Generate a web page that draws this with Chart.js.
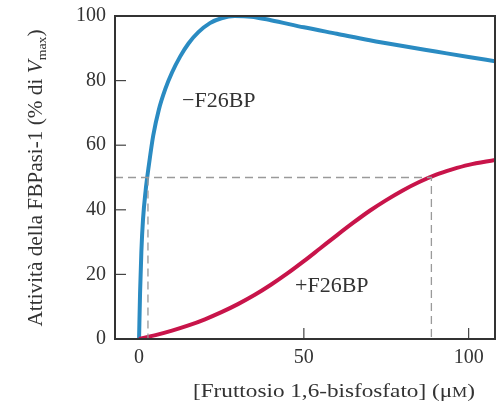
<!DOCTYPE html>
<html>
<head>
<meta charset="utf-8">
<script src="https://cdn.jsdelivr.net/npm/chart.js@4/dist/chart.umd.min.js"></script>
<style>
  html, body { margin: 0; padding: 0; background: #fff; }
  #wrap { width: 498px; height: 409px; }
</style>
</head>
<body>
<div id="wrap"><canvas id="grafico"></canvas></div>
<script>
// valori
const xTicks = [0, 50, 100];
const yTicks = [0, 20, 40, 60, 80, 100];

// -F26BP
const senzaX = [0, 0.3, 0.7, 1.2, 2, 3, 4.3, 6, 8, 10, 12.5, 15, 18, 21.5, 25, 29, 34, 40, 50, 60, 70, 80, 90, 100, 108];
const senzaY = [0, 14, 27, 37, 46, 54, 63, 71, 77.5, 82.5, 87.5, 91.5, 95, 97.8, 99.3, 100, 99.8, 98.7, 96.5, 94.5, 92.5, 90.7, 89, 87.3, 86];

// +F26BP
const conX = [0, 5, 10, 15, 20, 25, 30, 35, 40, 45, 50, 55, 60, 65, 70, 75, 80, 85, 90, 95, 100, 108];
const conY = [0, 1.2, 2.6, 4.2, 6.1, 8.3, 10.8, 13.6, 16.8, 20.3, 24.1, 28.1, 32.1, 36, 39.7, 43, 46, 48.6, 50.8, 52.5, 53.9, 55.4];

// linee tratteggiate a metà attività
const metaY = 50;
const metaSenzaX = 2.7;
const metaConX = 88.7;

const X_MIN = -7.3, X_MAX = 108;
const FONT = '"Liberation Serif", "DejaVu Serif", serif';

const toPoints = (xs, ys) => xs.map((x, i) => ({ x: x, y: ys[i] }));

// disegna pezzi di testo (corsivo, pedici) centrati e adattati a una larghezza
function drawParts(ctx, parts, cx, baseline, width) {
    let total = 0;
    parts.forEach(p => { ctx.font = p.f; total += ctx.measureText(p.t).width; });
    const k = width ? width / total : 1;
    ctx.save();
    ctx.translate(cx - (total * k) / 2, baseline);
    ctx.scale(k, 1);
    ctx.textAlign = 'left';
    ctx.textBaseline = 'alphabetic';
    ctx.fillStyle = '#333';
    let x = 0;
    parts.forEach(p => {
        ctx.font = p.f;
        ctx.fillText(p.t, x, p.dy);
        x += ctx.measureText(p.t).width;
    });
    ctx.restore();
}

// cornice, tacche interne, etichette e titoli degli assi
const decorPlugin = {
    id: 'decor',
    afterDraw(chart) {
        const ctx = chart.ctx;
        const a = chart.chartArea;
        const xs = chart.scales.x, ys = chart.scales.y;
        ctx.save();

        // tacche verso l'interno
        ctx.strokeStyle = '#444';
        ctx.lineWidth = 1.2;
        yTicks.forEach(v => {
            if (v === 0 || v === 100) return;
            const py = ys.getPixelForValue(v);
            ctx.beginPath();
            ctx.moveTo(a.left, py);
            ctx.lineTo(a.left + 11, py);
            ctx.stroke();
        });
        xTicks.forEach(v => {
            if (v === 0) return;
            const px = xs.getPixelForValue(v);
            ctx.beginPath();
            ctx.moveTo(px, a.bottom);
            ctx.lineTo(px, a.bottom - 11);
            ctx.stroke();
        });

        // cornice
        ctx.strokeStyle = '#333';
        ctx.lineWidth = 2;
        ctx.strokeRect(a.left, a.top, a.right - a.left, a.bottom - a.top);

        // etichette delle tacche
        ctx.fillStyle = '#333';
        ctx.font = '20px ' + FONT;
        ctx.textAlign = 'right';
        ctx.textBaseline = 'middle';
        yTicks.forEach(v => ctx.fillText(String(v), a.left - 9, ys.getPixelForValue(v)));
        ctx.textAlign = 'center';
        ctx.textBaseline = 'top';
        xTicks.forEach(v => ctx.fillText(String(v), xs.getPixelForValue(v), a.bottom + 9));

        // etichette delle curve
        ctx.font = '22px ' + FONT;
        ctx.textAlign = 'left';
        ctx.textBaseline = 'alphabetic';
        ctx.fillText('\u2212F26BP', 182, 107);
        ctx.fillText('+F26BP', 295, 292);

        // titolo asse x
        drawParts(ctx, [
            { t: '[Fruttosio 1,6-bisfosfato] (\u03bc', f: '19px ' + FONT, dy: 0 },
            { t: 'M', f: '14px ' + FONT, dy: 0 },
            { t: ')', f: '19px ' + FONT, dy: 0 }
        ], 334, 397, 282);

        // titolo asse y
        ctx.translate(42, 178);
        ctx.rotate(-Math.PI / 2);
        drawParts(ctx, [
            { t: 'Attivit\u00e0 della FBPasi-1 (% di ', f: '20px ' + FONT, dy: 0 },
            { t: 'V', f: 'italic 20px ' + FONT, dy: 0 },
            { t: 'max', f: '13px ' + FONT, dy: 4 },
            { t: ')', f: '20px ' + FONT, dy: 0 }
        ], 0, 0, 297);
        ctx.restore();
    }
};

const dash = {
    borderColor: '#9a9a9a',
    borderWidth: 1.3,
    borderDash: [8, 5],
    pointRadius: 0,
    tension: 0,
    fill: false
};

new Chart(document.getElementById('grafico'), {
    type: 'line',
    data: {
        datasets: [
            {
                ...dash,
                data: [{ x: X_MIN, y: metaY }, { x: metaConX, y: metaY }, { x: metaConX, y: 0 }]
            },
            {
                ...dash,
                data: [{ x: metaSenzaX, y: metaY }, { x: metaSenzaX, y: 0 }]
            },
            {
                label: '+F26BP',
                data: toPoints(conX, conY),
                borderColor: '#c8144a',
                borderWidth: 4,
                pointRadius: 0,
                cubicInterpolationMode: 'monotone',
                fill: false
            },
            {
                label: '\u2212F26BP',
                data: toPoints(senzaX, senzaY),
                borderColor: '#2a8bc2',
                borderWidth: 4,
                pointRadius: 0,
                cubicInterpolationMode: 'monotone',
                fill: false
            }
        ]
    },
    options: {
        responsive: true,
        maintainAspectRatio: false,
        animation: false,
        layout: { padding: { top: 16, right: 3, left: 0, bottom: 0 } },
        plugins: {
            legend: { display: false },
            tooltip: { enabled: false }
        },
        scales: {
            x: {
                type: 'linear',
                min: X_MIN,
                max: X_MAX,
                grid: { display: false, drawTicks: false },
                border: { display: false },
                ticks: { display: false },
                afterFit(scale) { scale.height = 70; }
            },
            y: {
                type: 'linear',
                min: 0,
                max: 100,
                grid: { display: false, drawTicks: false },
                border: { display: false },
                ticks: { display: false },
                afterFit(scale) { scale.width = 115; }
            }
        }
    },
    plugins: [decorPlugin]
});
</script>
</body>
</html>
